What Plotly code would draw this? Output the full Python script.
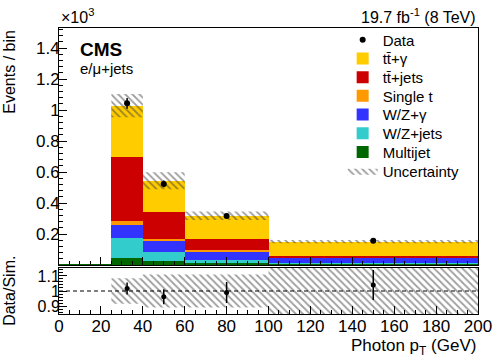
import numpy as np
import plotly.graph_objects as go
from plotly.subplots import make_subplots

# binning (GeV)
edges = [0, 25, 40, 60, 100, 200]

# stacked simulation, events/bin in units of 10^3
multijet = [0.005, 0.043, 0.028, 0.010, 0.008]
wz_jets = [0.0, 0.129, 0.058, 0.022, 0.004]
wz_gamma = [0.0, 0.086, 0.069, 0.058, 0.035]
single_t = [0.0, 0.028, 0.013, 0.005, 0.003]
tt_jets = [0.0, 0.409, 0.172, 0.071, 0.008]
tt_gamma = [0.0, 0.334, 0.203, 0.152, 0.093]
sim_unc = [0.0, 0.075, 0.055, 0.027, 0.011]

# data (bins 25-200)
data_y = [1.043, 0.523, 0.316, 0.157]
data_err = [0.035, 0.022, 0.018, 0.014]

# ratio panel
ratio_y = [1.017, 0.962, 0.990, 1.040]
ratio_err = [0.040, 0.050, 0.070, 0.100]
ratio_unc = [0.085, 0.110, 0.110, 0.170]

ytick_vals = [0, 0.2, 0.4, 0.6, 0.8, 1.0, 1.2, 1.4]
ytick_text = ['', '0.2', '0.4', '0.6', '0.8', '1', '1.2', '1.4']
rtick_vals = [0.9, 1.0, 1.1]
rtick_text = ['0.9', '1', '1.1']

colors = {'ttg': 'rgb(255,204,0)',
          'ttj': 'rgb(204,0,0)',
          'st': 'rgb(255,153,0)',
          'wzg': 'rgb(51,51,255)',
          'wzj': 'rgb(51,204,204)',
          'mj': 'rgb(0,102,0)'}

edges = np.array(edges)
centers = (edges[1:] + edges[:-1]) / 2
widths = edges[1:] - edges[:-1]

FONT = 'Liberation Sans, Arial'
font_dict = dict(family=FONT, color='black', size=17)

f = make_subplots(rows=2, cols=1, shared_xaxes=True,
                  row_heights=[237, 46], vertical_spacing=3 / 286)

# one small legend per entry so the rows can sit as tight as in the original
def legend_slot(row):
    # row centre in pixels from the top of the figure -> paper coords
    yc = 40 + 18.7 * row
    return dict(x=0.677, y=(314 - yc) / 286, xanchor='left', yanchor='middle',
                bgcolor='rgba(0,0,0,0)', font=dict(family=FONT, size=15, color='black'),
                itemwidth=30)

stack = [(multijet, 'Multijet', 'mj', 6),
         (wz_jets, 'W/Z+jets', 'wzj', 5),
         (wz_gamma, 'W/Z+γ', 'wzg', 4),
         (single_t, 'Single t', 'st', 3),
         (tt_jets, 'tt\u0304+jets', 'ttj', 2),
         (tt_gamma, 'tt\u0304+γ', 'ttg', 1)]
for vals, name, c, row in stack:
    f.add_trace(go.Bar(x=centers, y=vals, width=widths, name=name,
                       marker=dict(color=colors[c], line=dict(width=0)),
                       legend='legend%d' % (row + 1)), row=1, col=1)

# uncertainty band on the stack total
total = np.sum([multijet, wz_jets, wz_gamma, single_t, tt_jets, tt_gamma], axis=0)[1:]
unc = np.array(sim_unc[1:])
lo = total - unc
hi = total + unc
hatch = dict(shape='\\', fgcolor='rgb(60,60,60)', bgcolor='rgba(0,0,0,0)',
             size=5, solidity=0.35)
f.add_trace(go.Scatter(x=edges[1:], y=np.append(lo, lo[-1]), mode='lines',
                       line=dict(width=0, shape='hv'), showlegend=False,
                       hoverinfo='skip'), row=1, col=1)
f.add_trace(go.Scatter(x=edges[1:], y=np.append(hi, hi[-1]), mode='lines',
                       line=dict(width=0, shape='hv'), fill='tonexty',
                       fillcolor='rgba(0,0,0,0)', fillpattern=hatch,
                       name='Uncertainty', legend='legend8'), row=1, col=1)

f.add_trace(go.Scatter(x=centers[1:], y=data_y, mode='markers', name='Data',
                       marker=dict(color='black', size=6),
                       error_y=dict(type='data', array=data_err, color='black',
                                    thickness=1.5, width=0),
                       legend='legend'), row=1, col=1)

# ratio panel
r_lo = 1 - np.array(ratio_unc)
r_hi = 1 + np.array(ratio_unc)
f.add_trace(go.Scatter(x=edges[1:], y=np.append(r_lo, r_lo[-1]), mode='lines',
                       line=dict(width=0, shape='hv'), showlegend=False,
                       hoverinfo='skip'), row=2, col=1)
f.add_trace(go.Scatter(x=edges[1:], y=np.append(r_hi, r_hi[-1]), mode='lines',
                       line=dict(width=0, shape='hv'), fill='tonexty',
                       fillcolor='rgba(0,0,0,0)', fillpattern=hatch,
                       showlegend=False), row=2, col=1)
f.add_trace(go.Scatter(x=centers[1:], y=ratio_y, mode='markers', showlegend=False,
                       marker=dict(color='black', size=5),
                       error_y=dict(type='data', array=ratio_err, color='black',
                                    thickness=1.5, width=0)), row=2, col=1)
f.add_hline(y=1, line=dict(color='black', width=1, dash='4px,3px'), row=2, col=1)

# axes, ROOT style
axis_style = dict(showline=True, linecolor='black', linewidth=1, mirror=True,
                  ticks='inside', ticklen=8, tickcolor='black', tickwidth=1,
                  tickfont=font_dict, showgrid=False, zeroline=False,
                  automargin=False)
f.update_xaxes(range=[0, 200], dtick=20, tick0=0, ticklabelstandoff=-3,
               minor=dict(ticks='inside', dtick=5, ticklen=4, tickcolor='black'),
               **axis_style)
f.update_xaxes(showticklabels=False, row=1, col=1)
f.update_yaxes(range=[0, 1.529], tickmode='array', tickvals=ytick_vals,
               ticktext=ytick_text, ticklabelstandoff=-5,
               minor=dict(ticks='inside', tickmode='linear', tick0=0, dtick=0.04,
                          ticklen=4, tickcolor='black'),
               row=1, col=1, **axis_style)
f.update_yaxes(range=[0.847, 1.153], tickmode='array', tickvals=rtick_vals,
               ticktext=rtick_text, ticklabelstandoff=-5,
               minor=dict(ticks='inside', tickmode='linear', tick0=0.8, dtick=0.02,
                          ticklen=4, tickcolor='black'),
               row=2, col=1, **axis_style)
f.update_yaxes(tickfont=dict(family=FONT, size=16, color='black'), row=2, col=1)

ann = dict(xref='paper', yref='paper', showarrow=False)
f.add_annotation(x=0.0, y=1.0, xanchor='left', yanchor='bottom',
                 text='×10<sup>3</sup>', font=dict(family=FONT, size=16, color='black'), **ann)
f.add_annotation(x=1.0, y=1.0, xanchor='right', yanchor='bottom',
                 text='19.7 fb<sup>-1</sup> (8 TeV)',
                 font=dict(family=FONT, size=16, color='black'), **ann)
f.add_annotation(x=0.046, y=0.968, xanchor='left', yanchor='top',
                 text='<b>CMS</b>', font=dict(family=FONT, size=19, color='black'), **ann)
f.add_annotation(x=0.046, y=0.895, xanchor='left', yanchor='top',
                 text='e/μ+jets', font=dict(family=FONT, size=15, color='black'), **ann)
f.add_annotation(x=-0.12, y=1.0, xanchor='center', yanchor='top', textangle=-90,
                 text='Events / bin', font=dict(family=FONT, size=16, color='black'), **ann)
f.add_annotation(x=-0.12, y=0.08, xanchor='center', yanchor='middle', textangle=-90,
                 text='Data/Sim.', font=dict(family=FONT, size=16, color='black'), **ann)
f.add_annotation(x=1.0, y=-0.07, xanchor='right', yanchor='top',
                 text='Photon p<sub>T</sub> (GeV)',
                 font=dict(family=FONT, size=17, color='black'), **ann)

layout_legends = {('legend' if i == 0 else 'legend%d' % (i + 1)): legend_slot(i)
                  for i in range(8)}
f.update_layout(barmode='stack', bargap=0, font=font_dict,
                plot_bgcolor='white', paper_bgcolor='white',
                width=498, height=358,
                margin=dict(l=59, r=20, t=28, b=44, autoexpand=False),
                **layout_legends)
# the page body has a default 8px margin; drop it so the figure fills the window
f.write_html('out.html', config={'displayModeBar': False},
             post_script="document.body.style.margin='0';")
